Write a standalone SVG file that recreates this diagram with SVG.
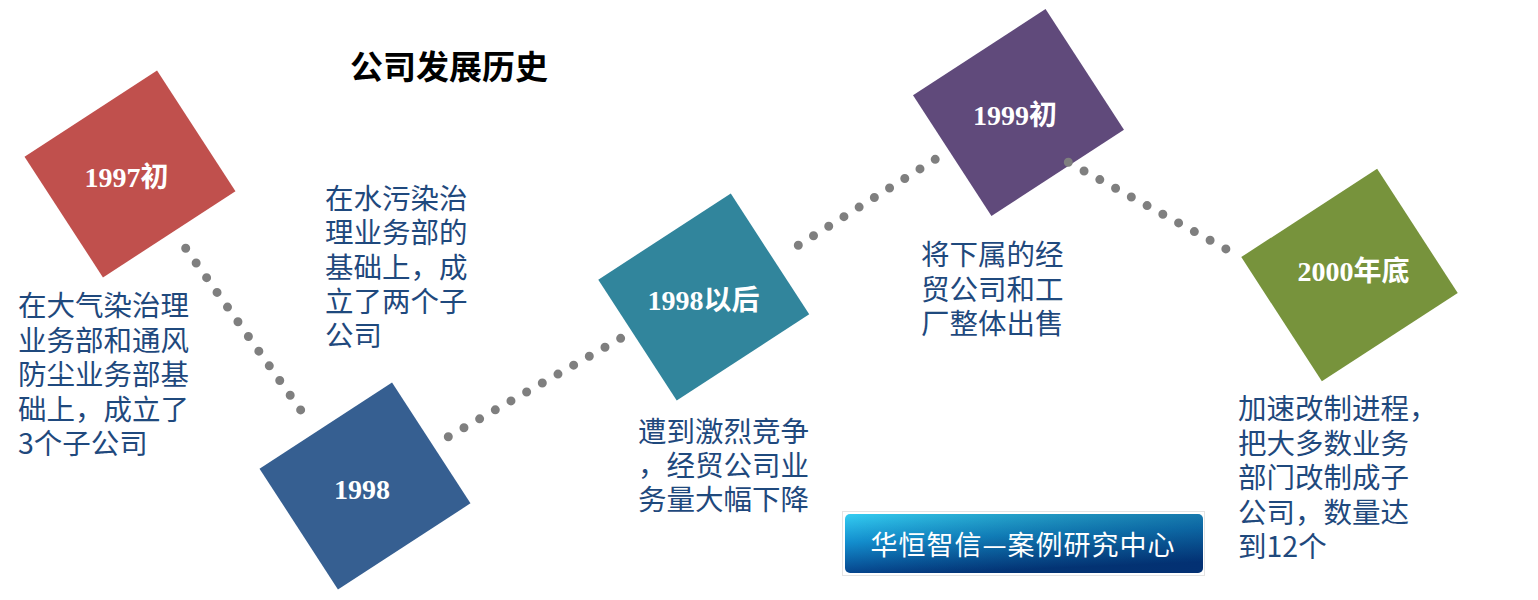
<svg xmlns="http://www.w3.org/2000/svg" width="1538" height="600" viewBox="0 0 1538 600">
<style>
.node-shape{stroke:none}
.lbl{font-family:"Liberation Serif","Noto Sans CJK SC",serif;font-weight:bold;font-size:28px;fill:#FFFFFF;text-anchor:middle}
.desc{font-family:"Noto Sans CJK SC","Noto Sans",sans-serif;font-size:28.5px;fill:#1F497D}
.title{font-family:"Noto Sans CJK SC","Noto Sans",sans-serif;font-weight:bold;font-size:33px;fill:#000000}
.dots{fill:none;stroke:#7F7F7F;stroke-width:9;stroke-linecap:round}
.badge-text{font-family:"Noto Sans CJK SC",sans-serif;font-size:27px;fill:#FFFFFF;text-anchor:middle;letter-spacing:1px}
</style>
<defs>
<linearGradient id="badgeGrad" x1="0" y1="0" x2="0.25" y2="1">
<stop offset="0" stop-color="#34CDF2"/>
<stop offset="0.45" stop-color="#138FCF"/>
<stop offset="1" stop-color="#043D86"/>
</linearGradient>
<linearGradient id="badgeShade" x1="0" y1="0" x2="1" y2="0">
<stop offset="0" stop-color="#000" stop-opacity="0"/>
<stop offset="1" stop-color="#001a50" stop-opacity="0.35"/>
</linearGradient>
</defs>
<rect width="1538" height="600" fill="#FFFFFF"/>

<text class="title" x="350" y="79">公司发展历史</text>

<g id="node-1997">
<rect class="node-shape" x="-79" y="-72" width="158" height="144" fill="#C0504D" transform="translate(130,174) rotate(-33)"/>
<text class="lbl" x="126.5" y="187">1997初</text>
</g>
<g id="node-1998">
<rect class="node-shape" x="-79" y="-72" width="158" height="144" fill="#365F91" transform="translate(365,486) rotate(-33)"/>
<text class="lbl" x="362" y="499">1998</text>
</g>
<g id="node-1998after">
<rect class="node-shape" x="-79" y="-72" width="158" height="144" fill="#31859C" transform="translate(703.75,297) rotate(-33)"/>
<text class="lbl" x="703.5" y="310">1998以后</text>
</g>
<g id="node-1999">
<rect class="node-shape" x="-79" y="-72" width="158" height="144" fill="#604A7B" transform="translate(1018.5,112.5) rotate(-33)"/>
<text class="lbl" x="1015" y="125">1999初</text>
</g>
<g id="node-2000">
<rect class="node-shape" x="-81" y="-74" width="162" height="148" fill="#77933C" transform="translate(1349.5,275) rotate(-33)"/>
<text class="lbl" x="1353.5" y="281">2000年底</text>
</g>

<g id="connectors">
<line class="dots" x1="185.7" y1="248.3" x2="300.7" y2="410" stroke-dasharray="0 18.03"/>
<line class="dots" x1="448.3" y1="436.7" x2="620.7" y2="338.3" stroke-dasharray="0 18.04"/>
<line class="dots" x1="798.3" y1="245.3" x2="935.3" y2="159.3" stroke-dasharray="0 17.96"/>
<line class="dots" x1="1068.3" y1="162.3" x2="1226" y2="249" stroke-dasharray="0 17.98"/>
</g>

<g id="desc-1997">
<text class="desc" x="18" y="316"><tspan x="18">在大气染治理</tspan><tspan x="18" dy="34.5">业务部和通风</tspan><tspan x="18" dy="34.5">防尘业务部基</tspan><tspan x="18" dy="34.5">础上，成立了</tspan><tspan x="18" dy="34.5">3个子公司</tspan></text>
</g>
<g id="desc-1998">
<text class="desc" x="325" y="209"><tspan x="325">在水污染治</tspan><tspan x="325" dy="34.25">理业务部的</tspan><tspan x="325" dy="34.25">基础上，成</tspan><tspan x="325" dy="34.25">立了两个子</tspan><tspan x="325" dy="34.25">公司</tspan></text>
</g>
<g id="desc-1998after">
<text class="desc" x="638" y="442"><tspan x="638">遭到激烈竞争</tspan><tspan x="638" dy="34">，经贸公司业</tspan><tspan x="638" dy="34">务量大幅下降</tspan></text>
</g>
<g id="desc-1999">
<text class="desc" x="921" y="265"><tspan x="921">将下属的经</tspan><tspan x="921" dy="34.5">贸公司和工</tspan><tspan x="921" dy="34.5">厂整体出售</tspan></text>
</g>
<g id="desc-2000">
<text class="desc" x="1238" y="419"><tspan x="1238">加速改制进程，</tspan><tspan x="1238" dy="34.5">把大多数业务</tspan><tspan x="1238" dy="34.5">部门改制成子</tspan><tspan x="1238" dy="34.5">公司，数量达</tspan><tspan x="1238" dy="34.5">到12个</tspan></text>
</g>

<g id="badge">
<rect x="842.5" y="511.5" width="362" height="64" fill="none" stroke="#C8C8C8" stroke-width="1" stroke-dasharray="1 1"/>
<rect x="845" y="514" width="358" height="59" rx="5" fill="url(#badgeGrad)"/>
<rect x="845" y="514" width="358" height="59" rx="5" fill="url(#badgeShade)"/>
<text class="badge-text" x="1023" y="555">华恒智信—案例研究中心</text>
</g>
</svg>
